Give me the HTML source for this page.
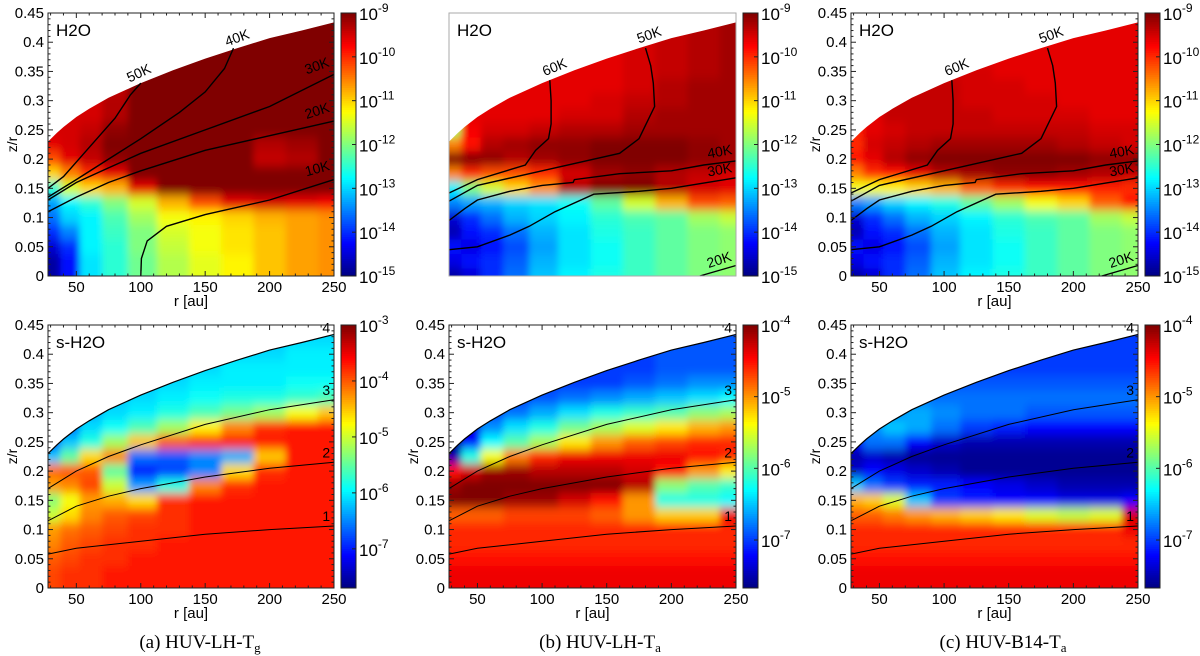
<!DOCTYPE html>
<html><head><meta charset="utf-8">
<style>
html,body{margin:0;padding:0;background:#fff;}
svg{display:block;font-family:"Liberation Sans",sans-serif;}
</style></head>
<body>
<svg id="fig" width="1200" height="656" viewBox="0 0 1200 656" xmlns="http://www.w3.org/2000/svg">
<defs>
<filter id="soft" x="-10%" y="-10%" width="120%" height="120%"><feGaussianBlur stdDeviation="3.5 5"/></filter>
</defs>
</svg>
<script>
// ---- grid axes (data) ----
const rNodes=[30,45,60,80,100,125,150,175,200,225,250];
const zNodes=[0.425,0.4,0.375,0.35,0.325,0.3,0.275,0.25,0.225,0.2,0.175,0.15,0.125,0.1,0.075,0.05,0.025,0];
const surfR=[28,35,40,50,60,75,100,125,150,175,200,225,250];
const surfZ=[0.23,0.245,0.255,0.272,0.286,0.305,0.33,0.352,0.372,0.39,0.407,0.42,0.434];
const xTicks=[50,100,150,200,250];
const yTicks=[0,0.05,0.1,0.15,0.2,0.25,0.3,0.35,0.4,0.45];
const cbTop=[-9,-10,-11,-12,-13,-14,-15];
const cbBotA=[-3,-4,-5,-6,-7];
const cbBotBC=[-4,-5,-6,-7];

// ---- H2O gas abundances (log10) ----
const h2oA=[
[-9.5,-9.5,-9.5,-9.5,-9,-9,-9,-9,-9,-9,-9],
[-9.5,-9.5,-9.5,-9.5,-9,-9,-9,-9,-9,-9,-9],
[-9.5,-9.5,-9.5,-9.5,-9,-9,-9,-9,-9,-9,-9],
[-9.5,-9.5,-9.5,-9.5,-9,-9,-9,-9,-9,-9,-9],
[-9.5,-9.5,-9.5,-9.4,-9,-9,-9,-9,-9,-9,-9],
[-9.5,-9.5,-9.5,-9.3,-9,-9,-9,-9,-9,-9,-9],
[-9.5,-9.5,-9.5,-9.3,-9,-9,-9,-9,-9,-9,-9],
[-9.5,-9.5,-9.4,-9.1,-9,-9,-9,-9,-9,-9,-9],
[-9.6,-9.5,-9.3,-9,-9,-9,-9,-9,-9.3,-9.2,-9],
[-10.2,-9.6,-9.4,-9.1,-9,-9,-9,-9,-9.4,-9.3,-9],
[-11,-10.5,-10,-9.6,-9,-9,-9,-9,-9,-9,-9],
[-12.5,-11.5,-11,-10.8,-9.6,-9,-9,-9,-9,-9,-9],
[-13.3,-12.8,-12.5,-12,-11.5,-10.8,-10.2,-9.6,-9.5,-9.6,-9.7],
[-13.6,-13,-12.8,-12.3,-11.8,-11.3,-11.2,-11,-10.8,-10.7,-10.6],
[-14,-13.5,-12.8,-12.4,-12,-11.5,-11.3,-11.1,-10.9,-10.7,-10.6],
[-14.5,-14,-12.8,-12.5,-12,-11.6,-11.3,-11.1,-10.9,-10.7,-10.6],
[-14.8,-14.2,-12.9,-12.5,-12.1,-11.7,-11.4,-11.2,-10.9,-10.7,-10.6],
[-14.8,-14.2,-12.9,-12.5,-12.1,-11.7,-11.4,-11.2,-10.9,-10.7,-10.6]];
const h2oB=[
[-9.6,-9.6,-9.6,-9.6,-9.6,-9.6,-9.6,-9.5,-9.4,-9.3,-9.2],
[-9.6,-9.6,-9.6,-9.6,-9.6,-9.6,-9.6,-9.5,-9.4,-9.3,-9.2],
[-9.6,-9.6,-9.6,-9.6,-9.6,-9.6,-9.6,-9.5,-9.4,-9.3,-9.2],
[-9.6,-9.6,-9.6,-9.6,-9.6,-9.6,-9.6,-9.5,-9.4,-9.3,-9.2],
[-9.6,-9.6,-9.6,-9.6,-9.6,-9.6,-9.6,-9.5,-9.3,-9.2,-9.2],
[-9.6,-9.6,-9.6,-9.6,-9.6,-9.6,-9.5,-9.4,-9.3,-9.2,-9.2],
[-11.5,-9.6,-9.6,-9.6,-9.6,-9.5,-9.5,-9.3,-9.2,-9.2,-9.2],
[-11.8,-9.7,-9.5,-9.5,-9.4,-9.3,-9.3,-9.2,-9.2,-9.2,-9.2],
[-10.5,-9.8,-9.3,-9.2,-9.1,-9.1,-9,-9,-9,-9.1,-9.2],
[-9,-9,-9.1,-9.3,-9.2,-9.1,-9,-9,-9,-9.1,-9.2],
[-10.5,-10,-10.2,-10.2,-10,-9.5,-9.2,-9.1,-9.3,-9.4,-9.5],
[-12.8,-12,-11.5,-11,-10.6,-9.3,-9,-9,-9.3,-9.5,-9.6],
[-13.5,-13.3,-13.2,-13,-12.9,-12.7,-12.2,-11.5,-10.8,-10.2,-10.3],
[-14.5,-14,-13.6,-13.2,-13,-12.8,-12.5,-12.3,-12.2,-11.8,-11.6],
[-14.7,-14.2,-14,-13.6,-13.2,-12.9,-12.6,-12.4,-12.2,-12,-11.9],
[-14.2,-14.4,-14.2,-13.8,-13.3,-12.9,-12.7,-12.4,-12.2,-12,-11.9],
[-14.4,-14.2,-14,-13.7,-13.2,-12.9,-12.7,-12.4,-12.2,-12,-11.9],
[-14.8,-14.5,-14,-13.6,-13.1,-12.8,-12.6,-12.4,-12.2,-12,-11.9]];
const h2oC=[
[-9.6,-9.6,-9.6,-9.6,-9.6,-9.6,-9.6,-9.6,-9.6,-9.6,-9.6],
[-9.6,-9.6,-9.6,-9.6,-9.6,-9.6,-9.6,-9.6,-9.6,-9.6,-9.6],
[-9.6,-9.6,-9.6,-9.6,-9.6,-9.6,-9.6,-9.6,-9.6,-9.6,-9.6],
[-9.6,-9.6,-9.6,-9.5,-9.5,-9.5,-9.6,-9.6,-9.6,-9.6,-9.6],
[-9.6,-9.6,-9.5,-9.4,-9.4,-9.5,-9.5,-9.6,-9.6,-9.6,-9.6],
[-9.6,-9.6,-9.4,-9.4,-9.4,-9.5,-9.5,-9.5,-9.6,-9.6,-9.6],
[-9.8,-9.6,-9.4,-9.4,-9.4,-9.4,-9.5,-9.5,-9.5,-9.6,-9.6],
[-9.9,-9.6,-9.5,-9.4,-9.4,-9.4,-9.4,-9.4,-9.4,-9.5,-9.5],
[-10,-9.5,-9.4,-9.3,-9.2,-9.2,-9.2,-9.2,-9.3,-9.4,-9.5],
[-9.8,-9.6,-9.3,-9.1,-9,-9,-9,-9,-9,-9.1,-9.1],
[-10.5,-10,-9.8,-9.6,-9.3,-9.2,-9.1,-9.1,-9.2,-9.3,-9.4],
[-11.3,-11.3,-11.2,-11,-10.8,-10.3,-10,-9.8,-9.8,-9.9,-10],
[-13.5,-13.3,-13,-12.8,-12.6,-12.2,-11.8,-11.3,-11,-10.3,-9.8],
[-14.5,-14,-13.6,-13.2,-13,-12.8,-12.5,-12.3,-12.2,-11.8,-11.6],
[-14.7,-14.2,-14,-13.6,-13.2,-12.9,-12.6,-12.4,-12.2,-12,-11.9],
[-14.2,-14.4,-14.2,-13.8,-13.3,-12.9,-12.7,-12.4,-12.2,-12,-11.9],
[-14.4,-14.2,-14,-13.7,-13.2,-12.9,-12.7,-12.4,-12.2,-12,-11.9],
[-14.8,-14.5,-14,-13.6,-13.1,-12.8,-12.6,-12.4,-12.2,-12,-11.9]];
// ---- s-H2O ice abundances (log10) ----
const iceA=[
[-7.5,-7.5,-7.5,-7.3,-7,-6.7,-6.5,-6.3,-6.2,-6.1,-6.1],
[-7.5,-7.5,-7.3,-7,-6.7,-6.4,-6.2,-6.1,-6.1,-6,-6],
[-7.4,-7.3,-7,-6.7,-6.4,-6.2,-6.1,-6,-6,-6,-6],
[-7.3,-7.1,-6.8,-6.4,-6.2,-6.1,-6,-6,-6,-5.9,-5.9],
[-7.2,-7,-6.5,-6.2,-6.1,-6,-5.9,-5.8,-5.8,-5.7,-5.6],
[-7.1,-6.8,-6.3,-6.1,-6,-5.8,-5.6,-5.4,-5.2,-4.8,-4.5],
[-7,-6.6,-6.1,-5.9,-5.6,-5.2,-4.7,-4.2,-3.8,-3.7,-3.7],
[-6.8,-6.2,-5.8,-5.2,-4.5,-4,-3.8,-3.7,-3.7,-3.7,-3.7],
[-6.2,-5.5,-4.6,-4.2,-6.6,-6.7,-6.5,-6.3,-4.5,-3.7,-3.7],
[-4.1,-4.0,-4.0,-5.5,-7,-6.8,-6.5,-4.6,-3.8,-3.7,-3.7],
[-4.3,-4.2,-3.9,-5,-6.4,-5.8,-4.2,-3.8,-3.7,-3.7,-3.7],
[-5.3,-4.8,-4.3,-4.4,-4.6,-3.8,-3.7,-3.7,-3.7,-3.7,-3.7],
[-5,-4.6,-4.2,-4,-3.9,-3.8,-3.7,-3.7,-3.7,-3.7,-3.7],
[-4.3,-4.1,-4,-3.9,-3.8,-3.8,-3.7,-3.7,-3.7,-3.7,-3.7],
[-4.2,-4.0,-3.9,-3.8,-3.8,-3.7,-3.7,-3.7,-3.7,-3.7,-3.7],
[-4.0,-3.9,-3.8,-3.8,-3.7,-3.7,-3.7,-3.7,-3.7,-3.7,-3.7],
[-3.9,-3.8,-3.8,-3.7,-3.7,-3.7,-3.7,-3.7,-3.7,-3.7,-3.7],
[-3.9,-3.8,-3.8,-3.7,-3.7,-3.7,-3.7,-3.7,-3.7,-3.7,-3.7]];
const iceB=[
[-7.6,-7.5,-7.3,-7.1,-7,-7,-7,-7,-6.9,-6.9,-6.9],
[-7.6,-7.5,-7.3,-7.1,-7,-7,-7,-7,-6.9,-6.9,-6.9],
[-7.6,-7.5,-7.3,-7.1,-7,-7,-7,-7,-6.9,-6.9,-6.9],
[-7.6,-7.5,-7.3,-7.1,-7,-7,-7,-6.9,-6.8,-6.7,-6.7],
[-7.6,-7.4,-7.1,-7,-6.9,-6.8,-6.7,-6.6,-6.5,-6.4,-6.3],
[-7.6,-7.4,-7,-6.8,-6.6,-6.4,-6.2,-6.1,-6,-5.8,-5.7],
[-7.6,-7.3,-6.7,-6.4,-6.2,-5.9,-5.7,-5.5,-5.3,-5.1,-5],
[-7.6,-7.2,-6.3,-6,-5.7,-5.3,-5,-4.8,-4.7,-4.6,-4.6],
[-7.5,-6.2,-5.4,-4.9,-4.6,-4.4,-4.4,-4.4,-4.4,-4.5,-4.6],
[-4.5,-4.3,-4.1,-4.1,-4.2,-4.2,-4.2,-4.3,-4.5,-5,-5.3],
[-4.1,-4.0,-4.0,-4.0,-4.0,-4.0,-4.0,-4.2,-5.8,-6,-6.1],
[-4.0,-4.0,-4.0,-4.1,-4.1,-4.3,-4.5,-5.0,-6.2,-6.2,-6.3],
[-4.8,-4.8,-4.8,-4.7,-4.7,-4.7,-4.8,-5,-5.2,-5.2,-4.4],
[-4.6,-4.6,-4.6,-4.6,-4.6,-4.6,-4.6,-4.6,-4.6,-4.6,-4.6],
[-4.6,-4.6,-4.6,-4.6,-4.6,-4.6,-4.6,-4.6,-4.6,-4.6,-4.6],
[-4.5,-4.5,-4.5,-4.5,-4.5,-4.5,-4.5,-4.5,-4.5,-4.5,-4.5],
[-4.4,-4.4,-4.4,-4.4,-4.4,-4.4,-4.4,-4.4,-4.4,-4.4,-4.4],
[-4.4,-4.4,-4.4,-4.4,-4.4,-4.4,-4.4,-4.4,-4.4,-4.4,-4.4]];
const iceC=[
[-7.4,-7.3,-7.2,-7.1,-7.1,-7,-7,-7,-7,-7,-7],
[-7.4,-7.3,-7.2,-7.1,-7.1,-7,-7,-7,-7,-7,-7],
[-7.3,-7.2,-7.1,-7,-7,-7,-7,-7,-7,-7,-7],
[-7.2,-7.1,-7,-6.9,-6.9,-6.9,-6.9,-6.9,-6.9,-6.9,-6.9],
[-7.1,-7,-6.9,-6.8,-6.8,-6.8,-6.8,-6.8,-6.8,-6.8,-6.8],
[-7.1,-6.9,-6.7,-6.6,-6.7,-6.8,-6.8,-6.9,-6.9,-6.9,-6.9],
[-7.1,-6.7,-6.5,-6.6,-6.8,-7,-7.1,-7.2,-7.2,-7.2,-7.2],
[-7.2,-6.8,-6.8,-7.2,-7.4,-7.5,-7.5,-7.5,-7.5,-7.5,-7.5],
[-7.5,-7.4,-7.5,-7.6,-7.6,-7.6,-7.6,-7.6,-7.6,-7.6,-7.6],
[-7.4,-7.2,-7.3,-7.4,-7.5,-7.6,-7.6,-7.6,-7.6,-7.6,-7.6],
[-6.5,-6.8,-7,-7.1,-7.1,-7.2,-7.3,-7.4,-7.5,-7.5,-7.5],
[-5.1,-5.2,-5.5,-6.5,-7,-7.1,-7.2,-7.2,-7.3,-7.3,-7.2],
[-4.8,-4.8,-4.9,-5.0,-5.1,-5.2,-5.3,-5.5,-5.6,-5.5,-4.3],
[-4.6,-4.6,-4.6,-4.6,-4.6,-4.6,-4.6,-4.6,-4.6,-4.6,-4.4],
[-4.6,-4.6,-4.6,-4.6,-4.6,-4.6,-4.6,-4.6,-4.6,-4.6,-4.6],
[-4.5,-4.5,-4.5,-4.5,-4.5,-4.5,-4.5,-4.5,-4.5,-4.5,-4.5],
[-4.4,-4.4,-4.4,-4.4,-4.4,-4.4,-4.4,-4.4,-4.4,-4.4,-4.4],
[-4.4,-4.4,-4.4,-4.4,-4.4,-4.4,-4.4,-4.4,-4.4,-4.4,-4.4]];

// ---- contours: [r, z] ----
const tA50=[[28,.15],[40,.17],[60,.22],[80,.27],[92,.31],[100,.33]];
const tA40=[[28,.135],[50,.165],[75,.2],[100,.235],[130,.28],[150,.315],[165,.355],[172,.39]];
const tA30=[[28,.13],[50,.16],[75,.185],[100,.21],[150,.25],[200,.29],[250,.345]];
const tA20=[[28,.11],[50,.135],[75,.16],[100,.18],[150,.215],[200,.24],[250,.265]];
const tA10=[[100,0],[100.5,.03],[105,.06],[120,.085],[150,.105],[200,.13],[250,.165]];
const tB60=[[28,.142],[50,.165],[87,.19],[95,.215],[105,.235],[107,.26],[107,.3],[106,.335]];
const tB50=[[28,.128],[50,.155],[100,.18],[160,.21],[175,.235],[187,.29],[186,.33],[184,.36],[180,.39]];
const tB40=[[28,.095],[40,.115],[50,.13],[75,.145],[100,.155],[124,.16],[125,.165],[160,.175],[200,.18],[225,.19],[250,.197]];
const tB30=[[28,.045],[50,.05],[75,.07],[90,.085],[110,.11],[140,.14],[175,.145],[200,.15],[250,.168]];
const tB20=[[222,0],[250,.018]];
const av3=[[28,.17],[50,.2],[75,.225],[100,.245],[150,.28],[200,.305],[250,.322]];
const av2=[[28,.115],[50,.14],[75,.157],[100,.17],[150,.19],[200,.205],[250,.215]];
const av1=[[28,.058],[50,.068],[100,.08],[150,.092],[200,.1],[250,.106]];

const NS="http://www.w3.org/2000/svg";
const svg=document.getElementById('fig');
function mk(tag,attrs,parent){const e=document.createElementNS(NS,tag);for(const k in attrs)e.setAttribute(k,attrs[k]);parent.appendChild(e);return e;}
function jet(t){t=Math.max(0,Math.min(1,t));
  const c=x=>Math.round(255*Math.max(0,Math.min(1,1.5-Math.abs(x))));
  return `rgb(${c(4*t-3)},${c(4*t-2)},${c(4*t-1)})`;}

let pid=0;
function panel(cfg){
  pid++;
  const {x0,x1,y0,y1,grid,vmin,vmax,cbx,cbTicks,name}=cfg;
  const xs=r=>x0+(r-28)/(250-28)*(x1-x0);
  const ys=z=>y1-z/0.45*(y1-y0);
  const g=mk('g',{},svg);
  
  
  const cp=mk('clipPath',{id:'cp'+pid},svg.querySelector('defs'));
  let pts=`${x0},${y1} `+surfR.map((r,i)=>`${xs(r).toFixed(1)},${ys(surfZ[i]).toFixed(1)}`).join(' ')+` ${x1},${y1}`;
  mk('polygon',{points:pts},cp);
  const clipG=mk('g',{'clip-path':`url(#cp${pid})`},g);
  
  
  const hm=mk('g',{filter:'url(#soft)'},clipG);
  const colEdges=[];
  for(let j=0;j<=rNodes.length;j++){
    if(j===0)colEdges.push(0);else if(j===rNodes.length)colEdges.push(290);else colEdges.push((rNodes[j-1]+rNodes[j])/2);
  }
  grid.forEach((row,i)=>{
    const zt=i===0?0.6:(zNodes[i]+0.0125), zb=i===zNodes.length-1?-0.08:(zNodes[i]-0.0125);
    row.forEach((v,j)=>{
      const xa=xs(colEdges[j]),xb=xs(colEdges[j+1]);
      const rc=mk('rect',{x:xa.toFixed(1),y:ys(zt).toFixed(1),width:(xb-xa+0.6).toFixed(1),height:(ys(zb)-ys(zt)+0.6).toFixed(1),fill:jet((v-vmin)/(vmax-vmin))},hm);
      
      
    });
  });
  const line=(arr,nm,w)=>{const p=mk('polyline',{points:arr.map(q=>`${xs(q[0]).toFixed(1)},${ys(q[1]).toFixed(1)}`).join(' '),fill:'none',stroke:'#000','stroke-width':w},g);
    
    };
  (cfg.contours||[]).forEach(c=>line(c.pts,c.name,c.w||1.4));
  (cfg.clabels||[]).forEach(c=>{
    const t=mk('text',{x:xs(c.r).toFixed(1),y:ys(c.z).toFixed(1),'font-size':14,'text-anchor':'middle',transform:`rotate(${c.rot||0} ${xs(c.r).toFixed(1)} ${ys(c.z).toFixed(1)})`},g);
    t.textContent=c.t;
    
    
  });
  const frame=mk('rect',{x:x0,y:y0,width:x1-x0,height:y1-y0,fill:'none',stroke:cfg.axes?'#222':'#aaa','stroke-width':1},g);
  
  
  const sl=mk('text',{x:x0+8,y:y0+23,'font-size':17},g);
  sl.textContent=cfg.label;
  
  
  if(cfg.axes){
    const tg=mk('g',{stroke:'#222','stroke-width':1},g);
    
    
    for(let r=30;r<=250;r+=10){const L=(r%50===0)?5:2.5;const X=xs(r);
      mk('line',{x1:X,y1:y1,x2:X,y2:y1-L},tg);mk('line',{x1:X,y1:y0,x2:X,y2:y0+L},tg);}
    for(let k=0;k<=45;k++){const z=k/100;const L=(k%5===0)?5:2.5;const Y=ys(z);
      mk('line',{x1:x0,y1:Y,x2:x0+L,y2:Y},tg);mk('line',{x1:x1,y1:Y,x2:x1-L,y2:Y},tg);}
    xTicks.forEach(r=>{const t=mk('text',{x:xs(r),y:y1+16,'font-size':15,'text-anchor':'middle'},g);t.textContent=String(r);
      
      });
    yTicks.forEach(z=>{const t=mk('text',{x:x0-4,y:ys(z)+5,'font-size':15,'text-anchor':'end'},g);t.textContent=z===0?'0':String(z);
      
      });
    const xt=mk('text',{x:(x0+x1)/2,y:y1+30,'font-size':15,'text-anchor':'middle'},g);xt.textContent='r [au]';
    
    
    const yt=mk('text',{x:x0-31,y:(y0+y1)/2,'font-size':14,'text-anchor':'middle',transform:`rotate(-90 ${x0-31} ${(y0+y1)/2})`},g);yt.textContent='z/r';
    
    
  }
  const cb=mk('g',{},g);
  
  
  const N=120,h=(y1-y0)/N;
  for(let k=0;k<N;k++){mk('rect',{x:cbx,y:(y1-(k+1)*h).toFixed(2),width:15,height:(h+0.5).toFixed(2),fill:jet((k+0.5)/N)},cb);}
  mk('rect',{x:cbx,y:y0,width:15,height:y1-y0,fill:'none',stroke:'#222','stroke-width':1},cb);
  cbTicks.forEach(e=>{const Y=y1-(e-vmin)/(vmax-vmin)*(y1-y0);
    mk('line',{x1:cbx+15,y1:Y,x2:cbx+11,y2:Y,stroke:'#222'},cb);
    const t=mk('text',{x:cbx+18,y:Y+7,'font-size':17},cb);
    
    
    t.appendChild(document.createTextNode('10'));
    const s=mk('tspan',{dy:-8,'font-size':12},t);s.textContent=String(e);
  });
}
const topY=[13,276], botY=[325,588];
const labsTopA=[{t:'50K',r:100,z:.34,rot:-25},{t:'40K',r:176,z:.4,rot:-20},{t:'30K',r:238,z:.352,rot:-20},{t:'20K',r:238,z:.275,rot:-18},{t:'10K',r:238,z:.176,rot:-15}];
const labsTopB=[{t:'60K',r:111,z:.35,rot:-22},{t:'50K',r:184,z:.405,rot:-20},{t:'40K',r:238,z:.205,rot:-10},{t:'30K',r:238,z:.174,rot:-10},{t:'20K',r:238,z:.02,rot:-18}];
const labsBot=[{t:'4',r:244,z:.437},{t:'3',r:244,z:.33},{t:'2',r:244,z:.223},{t:'1',r:244,z:.115}];
const surfLine=surfR.map((r,i)=>[r,surfZ[i]]);
const ctA=[{pts:tA50,name:'contour-50k'},{pts:tA40,name:'contour-40k'},{pts:tA30,name:'contour-30k'},{pts:tA20,name:'contour-20k'},{pts:tA10,name:'contour-10k'}];
const ctB=[{pts:tB60,name:'contour-60k'},{pts:tB50,name:'contour-50k'},{pts:tB40,name:'contour-40k'},{pts:tB30,name:'contour-30k'},{pts:tB20,name:'contour-20k'}];
const ctAv=[{pts:surfLine,name:'contour-av4',w:1.2},{pts:av3,name:'contour-av3',w:1},{pts:av2,name:'contour-av2',w:1},{pts:av1,name:'contour-av1',w:1}];

panel({name:'panel-a-h2o',x0:48,x1:334,y0:topY[0],y1:topY[1],grid:h2oA,vmin:-15,vmax:-9,cbx:341,cbTicks:cbTop,label:'H2O',axes:true,contours:ctA,clabels:labsTopA});
panel({name:'panel-b-h2o',x0:449,x1:736,y0:topY[0],y1:topY[1],grid:h2oB,vmin:-15,vmax:-9,cbx:743,cbTicks:cbTop,label:'H2O',axes:false,contours:ctB,clabels:labsTopB});
panel({name:'panel-c-h2o',x0:851,x1:1138,y0:topY[0],y1:topY[1],grid:h2oC,vmin:-15,vmax:-9,cbx:1145,cbTicks:cbTop,label:'H2O',axes:true,contours:ctB,clabels:labsTopB});
panel({name:'panel-a-ice',x0:48,x1:334,y0:botY[0],y1:botY[1],grid:iceA,vmin:-7.7,vmax:-3,cbx:341,cbTicks:cbBotA,label:'s-H2O',axes:true,contours:ctAv,clabels:labsBot});
panel({name:'panel-b-ice',x0:449,x1:736,y0:botY[0],y1:botY[1],grid:iceB,vmin:-7.67,vmax:-4,cbx:743,cbTicks:cbBotBC,label:'s-H2O',axes:true,contours:ctAv,clabels:labsBot});
panel({name:'panel-c-ice',x0:851,x1:1138,y0:botY[0],y1:botY[1],grid:iceC,vmin:-7.67,vmax:-4,cbx:1145,cbTicks:cbBotBC,label:'s-H2O',axes:true,contours:ctAv,clabels:labsBot});

const caps=[['(a) HUV-LH-T','g',200],['(b) HUV-LH-T','a',600],['(c) HUV-B14-T','a',1003]];
caps.forEach(c=>{
  const t=mk('text',{x:c[2],y:648,'font-size':19,'text-anchor':'middle','font-family':'"Liberation Serif",serif'},svg);
  
  
  t.appendChild(document.createTextNode(c[0]));
  const s=mk('tspan',{dy:4,'font-size':13},t);s.textContent=c[1];
});
</script>
</body></html>
